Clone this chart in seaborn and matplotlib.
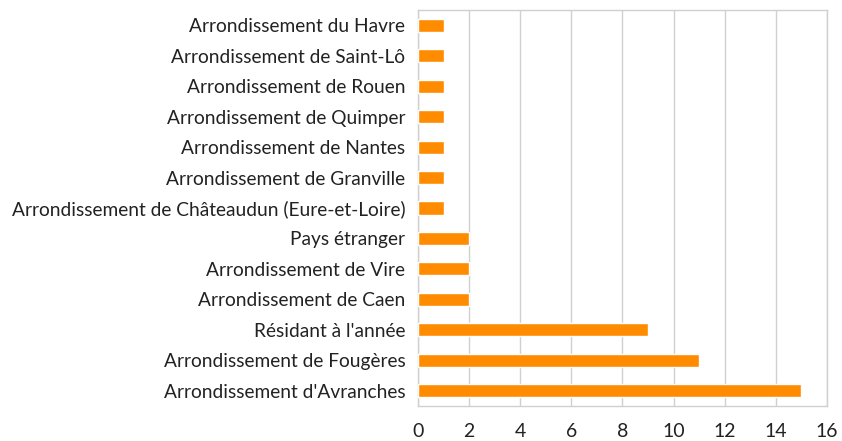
import matplotlib
matplotlib.use("Agg")
import matplotlib.pyplot as plt
import seaborn as sns
import pandas as pd

categories = [
    "Arrondissement du Havre",
    "Arrondissement de Saint-Lô",
    "Arrondissement de Rouen",
    "Arrondissement de Quimper",
    "Arrondissement de Nantes",
    "Arrondissement de Granville",
    "Arrondissement de Châteaudun (Eure-et-Loire)",
    "Pays étranger",
    "Arrondissement de Vire",
    "Arrondissement de Caen",
    "Résidant à l'année",
    "Arrondissement de Fougères",
    "Arrondissement d'Avranches",
]
counts = [1, 1, 1, 1, 1, 1, 1, 2, 2, 2, 9, 11, 15]
x_ticks = list(range(0, 17, 2))

sns.set_style("white")
plt.rcParams["font.family"] = ["Lato", "DejaVu Sans"]

df = pd.DataFrame({"origine": categories, "n": counts})

fig = plt.figure(figsize=(8.42, 4.41), dpi=100)
ax = fig.add_axes([0.4964, 0.0794, 0.4857, 0.898])

sns.barplot(data=df, y="origine", x="n", color="#FF8C00", saturation=1,
            width=0.43, ax=ax, zorder=3)

ax.set_xlim(0, 16)
ax.set_xticks(x_ticks)
ax.xaxis.grid(True, color="#d0d0d0", linewidth=1, zorder=0)
ax.set_axisbelow(True)
for s in ax.spines.values():
    s.set_color("#d0d0d0")
    s.set_linewidth(1)
ax.set_xlabel("")
ax.set_ylabel("")
ax.tick_params(axis="both", length=0, colors="#222222")
ax.tick_params(axis="x", pad=12, labelsize=14)
ax.tick_params(axis="y", pad=9, labelsize=13.8)

fig.savefig("out.png", dpi=100)
